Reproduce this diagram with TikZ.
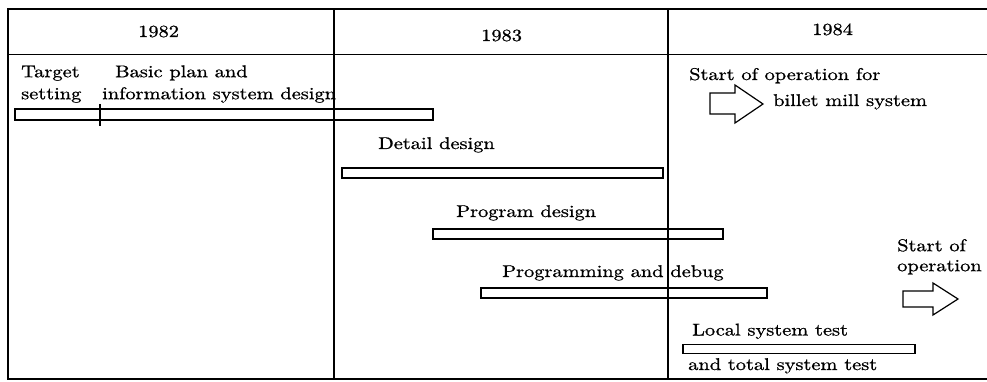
\documentclass[tikz,border=0pt]{standalone}
\usepackage{fontspec}
\setmainfont{lmroman10-regular}[Extension=.otf, FakeStretch=1.2, FakeBold=0.9]
\begin{document}
\begin{tikzpicture}[x=1pt,y=-1pt,
  frameline/.style={line width=1.4pt},
  barbox/.style={draw, line width=1.8pt, rectangle, inner sep=0pt, anchor=west, minimum height=#1},
  lbl/.style={anchor=base west, inner sep=0pt, font=\fontsize{17}{22}\selectfont},
  lbltwo/.style={anchor=north west, inner sep=0pt, align=left, font=\fontsize{17}{#1}\selectfont},
  yearlbl/.style={anchor=base west, inner sep=0pt, font=\fontsize{17}{20}\selectfont},
  blockarrow/.style={draw, line width=1.2pt, line join=miter}
]
\useasboundingbox (0,0) rectangle (987,382);
% frame
\coordinate (tl) at (8,9);
\coordinate (tr) at (987,9);
\coordinate (hl) at (8,54.5);
\coordinate (hr) at (987,54.5);
\coordinate (bl) at (8,379);
\coordinate (br) at (987,379);
\coordinate (d1t) at (334,9);
\coordinate (d1b) at (334,379);
\coordinate (d2t) at (668,9);
\coordinate (d2b) at (668,379);
\draw[frameline] (tr) -- (tl) -- (bl) -- (br);
\draw[frameline] (hl) -- (hr);
\draw[frameline] (d1t) -- (d1b);
\draw[frameline] (d2t) -- (d2b);
% years
\node[yearlbl] (y82) at (138,37) {1982};
\node[yearlbl] (y83) at (481,41) {1983};
\node[yearlbl] (y84) at (812,35) {1984};
% labels
\node[lbltwo=22] (target) at (21,65.5) {Target\\setting};
\node[lbltwo=22] (basic) at (102,65.2) {\hspace*{13pt}Basic plan and\\information system design};
\node[lbl] (detail) at (378,149) {Detail design};
\node[lbl] (progdes) at (456,217) {Program design};
\node[lbl] (progdeb) at (502,277) {Programming and debug};
\node[lbl] (local) at (692,335.5) {Local system test};
\node[lbl] (total) at (688,370) {and total system test};
\node[lbl] (sofor) at (689,80) {Start of operation for};
\node[lbl] (billet) at (773,106) {billet mill system};
\node[lbltwo=20] (sop) at (897,239) {Start of\\operation};
% bars
\node[barbox=11pt, minimum width=418pt] (b1) at (14,114.5) {};
\coordinate (tickt) at (100,104);
\coordinate (tickb) at (100,126);
\draw[line width=1.1pt] (tickt) -- (tickb);
\node[barbox=10pt, minimum width=321pt] (b2) at (341,173) {};
\node[barbox=10pt, minimum width=290pt] (b3) at (432,234) {};
\node[barbox=10pt, minimum width=286pt] (b4) at (480,293) {};
\node[barbox=9pt, minimum width=232pt] (b5) at (682,349) {};
% block arrows
\draw[blockarrow] (710,93) -- (735,93) -- (735,85) -- (763,104) -- (735,123) -- (735,114) -- (710,114) -- cycle;
\draw[blockarrow] (903,291) -- (933,291) -- (933,283) -- (958,299) -- (933,315) -- (933,307) -- (903,307) -- cycle;
\end{tikzpicture}
\end{document}
